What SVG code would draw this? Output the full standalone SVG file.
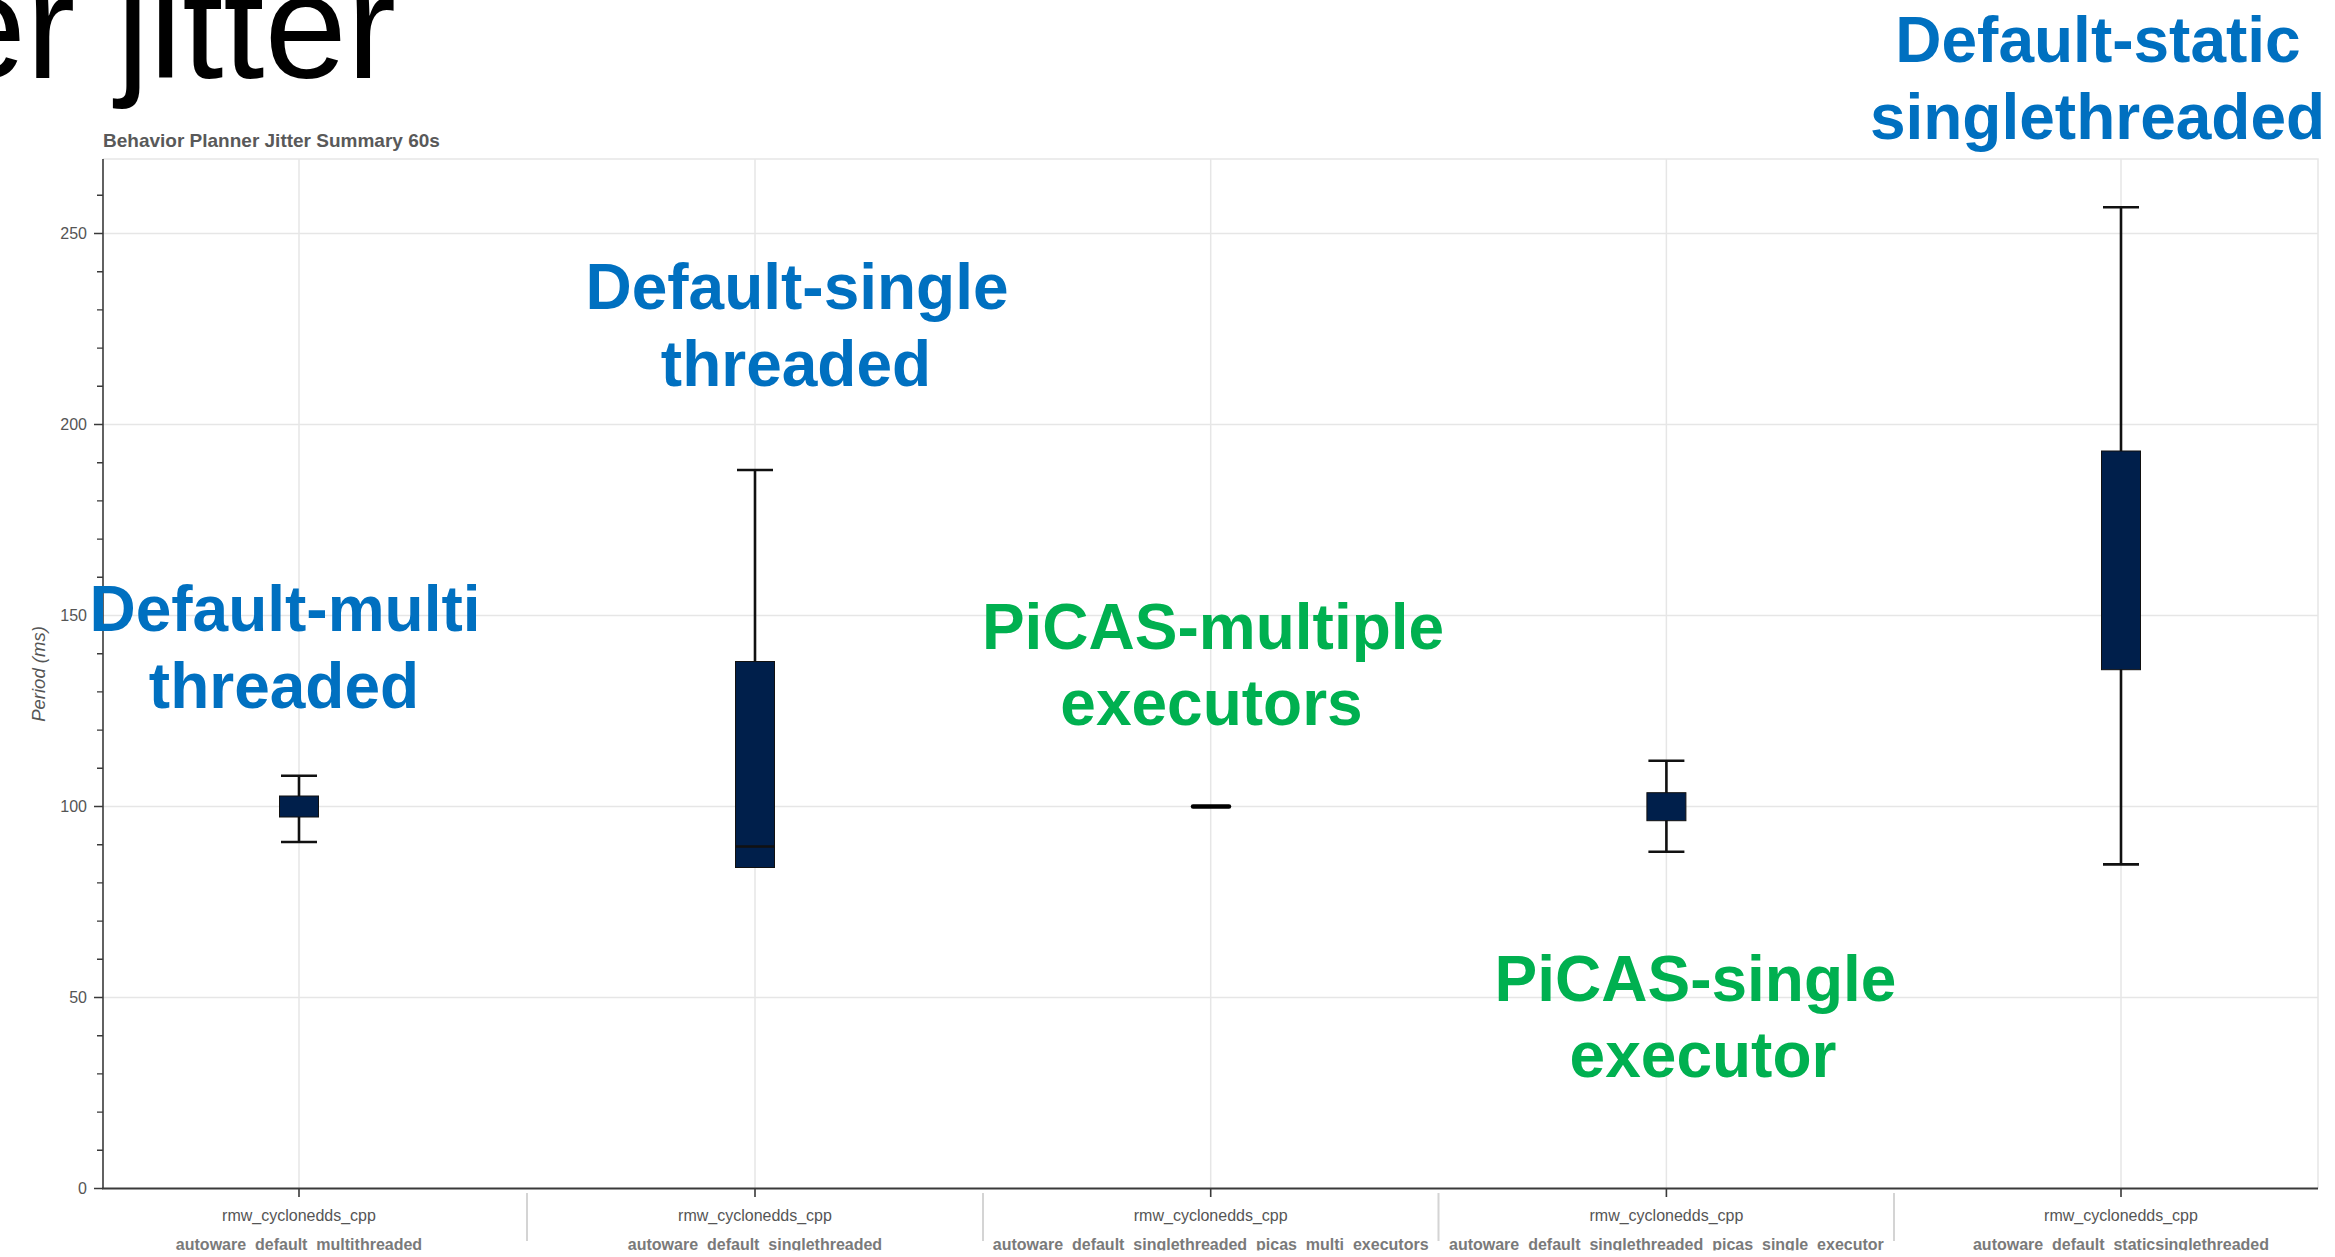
<svg xmlns="http://www.w3.org/2000/svg" width="2335" height="1257" viewBox="0 0 2335 1257">
<style>
text{font-family:"Liberation Sans",Arial,sans-serif}
.grid{stroke:#e6e6e6;stroke-width:1.5;fill:none}
.axis{stroke:#3a3a3a;fill:none}
.tick{font-size:16px;fill:#555;text-anchor:end}
.cat{font-size:16px;fill:#555;text-anchor:middle}
.grp{font-size:16px;font-weight:bold;fill:#7a7a7a;text-anchor:middle}
.sep{stroke:#d4d4d4;stroke-width:2}
.box{fill:#001f4b;stroke:#111;stroke-width:1}
.wh{stroke:#111;stroke-width:2.6;fill:none}
.blue{font-size:64px;font-weight:bold;fill:#0070c0;text-anchor:middle}
.green{font-size:64px;font-weight:bold;fill:#00b050;text-anchor:middle}
</style>
<defs>
<clipPath id="bottomclip"><rect x="0" y="0" width="2335" height="1250.5"/></clipPath>
</defs>
<rect width="2335" height="1257" fill="#fff"/>
<g id="slide-title">
<text x="396" y="78" font-size="148" text-anchor="end" fill="#000">er jitter</text>
</g>
<g id="chart-title">
<text x="103" y="147" font-size="19" font-weight="bold" fill="#595959">Behavior Planner Jitter Summary 60s</text>
</g>
<g id="grid">
<path class="grid" d="M103 997.5H2318M103 806.5H2318M103 615.5H2318M103 424.5H2318M103 233.5H2318"/>
<path class="grid" d="M299 159V1188.5M755 159V1188.5M1210.7 159V1188.5M1666.4 159V1188.5M2121 159V1188.5"/>
<path class="grid" d="M103 159H2318V1188.5"/>
</g>
<g id="y-axis">
<path class="axis" stroke-width="1.6" d="M103 159V1189"/>
<path class="axis" stroke-width="1.6" d="M94 1188.5H103M94 997.5H103M94 806.5H103M94 615.5H103M94 424.5H103M94 233.5H103"/>
<path class="axis" stroke-width="1.4" d="M97 1150.3H103M97 1112.1H103M97 1073.9H103M97 1035.7H103M97 959.3H103M97 921.1H103M97 882.9H103M97 844.7H103M97 768.3H103M97 730.1H103M97 691.9H103M97 653.7H103M97 577.3H103M97 539.1H103M97 500.9H103M97 462.7H103M97 386.3H103M97 348.1H103M97 309.9H103M97 271.7H103M97 195.3H103"/>
<text class="tick" x="87" y="1194">0</text>
<text class="tick" x="87" y="1003">50</text>
<text class="tick" x="87" y="812">100</text>
<text class="tick" x="87" y="621">150</text>
<text class="tick" x="87" y="430">200</text>
<text class="tick" x="87" y="239">250</text>
<text x="45" y="674" font-size="18.5" font-style="italic" fill="#555" text-anchor="middle" transform="rotate(-90 45 674)">Period (ms)</text>
</g>
<g id="x-axis">
<path class="axis" stroke-width="2.2" d="M102 1188.5H2318"/>
<path class="axis" stroke-width="1.6" d="M299 1188.5V1197M755 1188.5V1197M1210.7 1188.5V1197M1666.4 1188.5V1197M2121 1188.5V1197"/>
<path class="sep" d="M527 1193V1241M983 1193V1241M1438.5 1193V1241M1894 1193V1241"/>
<text class="cat" x="299" y="1221">rmw_cyclonedds_cpp</text>
<text class="cat" x="755" y="1221">rmw_cyclonedds_cpp</text>
<text class="cat" x="1210.7" y="1221">rmw_cyclonedds_cpp</text>
<text class="cat" x="1666.4" y="1221">rmw_cyclonedds_cpp</text>
<text class="cat" x="2121" y="1221">rmw_cyclonedds_cpp</text>
<g clip-path="url(#bottomclip)">
<text class="grp" x="299" y="1250">autoware_default_multithreaded</text>
<text class="grp" x="755" y="1250">autoware_default_singlethreaded</text>
<text class="grp" x="1210.7" y="1250">autoware_default_singlethreaded_picas_multi_executors</text>
<text class="grp" x="1666.4" y="1250">autoware_default_singlethreaded_picas_single_executor</text>
<text class="grp" x="2121" y="1250">autoware_default_staticsinglethreaded</text>
</g>
</g>
<g id="box-default-multithreaded">
<path class="wh" d="M299 775.7V842M281 775.7H317M281 842H317"/>
<rect class="box" x="279.5" y="796" width="39" height="21"/>
</g>
<g id="box-default-singlethreaded">
<path class="wh" d="M755 470V662M737 470H773"/>
<rect class="box" x="735.5" y="661.5" width="39" height="206"/>
<path class="wh" d="M736 846.5H774"/>
</g>
<g id="box-picas-multi-executors">
<path d="M1193 806.5H1229" stroke="#000" stroke-width="4.5" stroke-linecap="round"/>
</g>
<g id="box-picas-single-executor">
<path class="wh" d="M1666.4 760.7V851.7M1648.4 760.7H1684.4M1648.4 851.7H1684.4"/>
<rect class="box" x="1646.9" y="792.7" width="39" height="28"/>
</g>
<g id="box-default-staticsinglethreaded">
<path class="wh" d="M2121 207.2V864.4M2103 207.2H2139M2103 864.4H2139"/>
<rect class="box" x="2101.5" y="451" width="39" height="218.7"/>
</g>
<g id="annotations">
<text class="blue" x="285" y="631">Default-multi</text>
<text class="blue" x="284" y="708">threaded</text>
<text class="blue" x="797" y="309">Default-single</text>
<text class="blue" x="796" y="386">threaded</text>
<text class="green" x="1213" y="649">PiCAS-multiple</text>
<text class="green" x="1211.5" y="725">executors</text>
<text class="green" x="1695.5" y="1001">PiCAS-single</text>
<text class="green" x="1703" y="1077">executor</text>
<text class="blue" x="2098" y="62">Default-static</text>
<text class="blue" x="2097.5" y="139">singlethreaded</text>
</g>
</svg>
